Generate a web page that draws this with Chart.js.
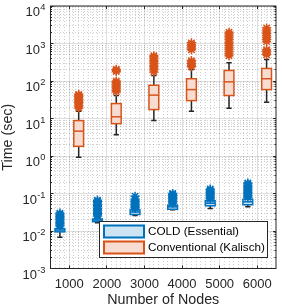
<!DOCTYPE html>
<html>
<head>
<meta charset="utf-8">
<script src="https://cdn.jsdelivr.net/npm/chart.js@4.4.1/dist/chart.umd.min.js"></script>
<style>
  html, body { margin: 0; padding: 0; background: #fff; }
</style>
</head>
<body>
<canvas id="graph-1" width="282" height="306"></canvas>
<script>
const nodes = [1000, 2000, 3000, 4000, 5000, 6000];
const yExponents = [-3, -2, -1, 0, 1, 2, 3, 4];
const seriesNames = ['COLD (Essential)', 'Conventional (Kalisch)'];

// COLD (Essential) - box stats per node count
const coldMin = [0.0068, 0.0165, 0.026, 0.0367, 0.040, 0.044];
const coldQ1 = [0.0095, 0.0178, 0.0275, 0.038, 0.047, 0.050];
const coldMed = [0.0106, 0.0196, 0.032, 0.044, 0.055, 0.060];
const coldQ3 = [0.0116, 0.021, 0.0367, 0.0488, 0.064, 0.0706];
const coldMax = [0.0128, 0.023, 0.039, 0.052, 0.067, 0.075];
const coldOutliers = [
  [0.0135, 0.0145, 0.0155, 0.0165, 0.018, 0.0195, 0.021, 0.0225, 0.024, 0.026, 0.028, 0.030],
  [0.025, 0.027, 0.029, 0.031, 0.034, 0.037, 0.040, 0.044, 0.048, 0.052, 0.057, 0.062, 0.066],
  [0.040, 0.043, 0.046, 0.049, 0.052, 0.056, 0.060, 0.065, 0.070, 0.085],
  [0.055, 0.059, 0.063, 0.067, 0.072, 0.077, 0.083, 0.089, 0.096, 0.100],
  [0.071, 0.076, 0.081, 0.087, 0.093, 0.100, 0.107, 0.115, 0.124, 0.132],
  [0.079, 0.085, 0.091, 0.098, 0.105, 0.113, 0.122, 0.131, 0.141, 0.152, 0.164, 0.178, 0.19]
];

// Conventional (Kalisch)
const convMin = [0.92, 3.7, 8.8, 15.6, 18.8, 27];
const convQ1 = [1.81, 7.3, 17.3, 30, 41, 59];
const convMed = [4.6, 11.1, 42, 59, 95, 115];
const convQ3 = [8.8, 25, 77, 115, 191, 216];
const convMax = [15.6, 41, 140, 203, 306, 375];
const convOutliers = [
  [19, 21, 23, 25, 27, 29, 31, 33, 36, 39, 42, 44],
  [52, 57, 63, 69, 76, 84, 92, 100, 180, 192, 205],
  [175, 195, 215, 240, 265, 295, 325, 360, 400, 440, 470],
  [240, 265, 290, 320, 350, 680, 760, 850, 940, 1040],
  [470, 530, 600, 680, 770, 870, 980, 1100, 1250, 1420, 1600, 1800, 2000],
  [500, 560, 620, 680, 1130, 1270, 1430, 1610, 1810, 2040, 2300, 2600]
];

const BLUE = '#0072BD', BLUE_FILL = '#CCE3F2';
const ORANGE = '#D95319', ORANGE_FILL = '#F7DDD1';
const INK = '#262626';
const FONT = "'Liberation Sans', Arial, sans-serif";
Chart.defaults.font.family = FONT;

const groups = [
  {shift: -250, min: coldMin, q1: coldQ1, med: coldMed, q3: coldQ3, max: coldMax, line: BLUE, fill: BLUE_FILL},
  {shift: 250, min: convMin, q1: convQ1, med: convMed, q3: convQ3, max: convMax, line: ORANGE, fill: ORANGE_FILL}
];

function outlierPoints(list, shift) {
  const pts = [];
  list.forEach((vals, i) => vals.forEach(v => pts.push({x: nodes[i] + shift, y: v})));
  return pts;
}

function align(p) { return Math.round(p - 0.5) + 0.5; }

const boxPlugin = {
  id: 'boxes',
  beforeDatasetsDraw(chart) {
    const {ctx, scales: {x, y}} = chart;
    ctx.save();
    groups.forEach(g => {
      nodes.forEach((n, i) => {
        const c = n + g.shift;
        const l = x.getPixelForValue(c - 130), r = x.getPixelForValue(c + 130);
        const cl = x.getPixelForValue(c - 70), cr = x.getPixelForValue(c + 70);
        const cx = x.getPixelForValue(c);
        const yMin = y.getPixelForValue(g.min[i]), yMax = y.getPixelForValue(g.max[i]);
        const yQ1 = y.getPixelForValue(g.q1[i]), yQ3 = y.getPixelForValue(g.q3[i]);
        const yMed = y.getPixelForValue(g.med[i]);
        // whiskers
        ctx.strokeStyle = INK;
        ctx.lineWidth = 1.5;
        ctx.beginPath();
        ctx.moveTo(cx, yMax); ctx.lineTo(cx, yQ3);
        ctx.moveTo(cx, yQ1); ctx.lineTo(cx, yMin);
        ctx.moveTo(cl, yMax); ctx.lineTo(cr, yMax);
        ctx.moveTo(cl, yMin); ctx.lineTo(cr, yMin);
        ctx.stroke();
        // box
        ctx.fillStyle = g.fill;
        ctx.fillRect(l, yQ3, r - l, yQ1 - yQ3);
        ctx.strokeStyle = g.line;
        ctx.lineWidth = 1.5;
        ctx.strokeRect(l, yQ3, r - l, yQ1 - yQ3);
        ctx.beginPath();
        ctx.moveTo(l, yMed); ctx.lineTo(r, yMed);
        ctx.stroke();
      });
    });
    ctx.restore();
  }
};

const frameLegendPlugin = {
  id: 'frameLegend',
  afterDraw(chart) {
    const {ctx, chartArea: a, scales: {x, y}} = chart;
    ctx.save();
    ctx.strokeStyle = INK;
    ctx.lineWidth = 1;
    ctx.beginPath();
    x.ticks.forEach(t => {
      if (!t.isMajor) return;
      const px = align(x.getPixelForValue(t.value));
      ctx.moveTo(px, a.bottom); ctx.lineTo(px, a.bottom - 3);
      ctx.moveTo(px, a.top); ctx.lineTo(px, a.top + 3);
    });
    y.ticks.forEach(t => {
      const py = align(y.getPixelForValue(t.value));
      const len = t.isMajor ? 3 : 1.5;
      ctx.moveTo(a.left, py); ctx.lineTo(a.left + len, py);
      ctx.moveTo(a.right, py); ctx.lineTo(a.right - len, py);
    });
    ctx.stroke();
    ctx.strokeRect(a.left, a.top, a.right - a.left, a.bottom - a.top);

    // y tick labels as 10 with a raised exponent
    ctx.fillStyle = INK;
    ctx.textAlign = 'right';
    ctx.textBaseline = 'alphabetic';
    yExponents.forEach(e => {
      const py = y.getPixelForValue(Math.pow(10, e));
      const right = a.left - 5;
      ctx.font = '9.3px ' + FONT;
      const exp = String(e);
      const w = ctx.measureText(exp).width;
      ctx.fillText(exp, right, py + 4);
      ctx.font = '13px ' + FONT;
      ctx.fillText('10', right - w - 0.3, py + 10);
    });

    // legend
    ctx.textAlign = 'left';
    ctx.fillStyle = '#fff';
    ctx.fillRect(99.5, 221.5, 168, 36);
    ctx.strokeStyle = INK;
    ctx.lineWidth = 1;
    ctx.strokeRect(99.5, 221.5, 168, 36);
    const rows = [[BLUE, BLUE_FILL, 231.5], [ORANGE, ORANGE_FILL, 247.5]];
    rows.forEach((row, i) => {
      ctx.fillStyle = row[1];
      ctx.fillRect(104, row[2] - 6, 40, 12);
      ctx.strokeStyle = row[0];
      ctx.lineWidth = 2;
      ctx.strokeRect(104, row[2] - 6, 40, 12);
      ctx.fillStyle = '#000';
      ctx.font = '11.7px ' + FONT;
      ctx.textBaseline = 'middle';
      ctx.fillText(seriesNames[i], 148, row[2] + 0.5);
    });
    ctx.restore();
  }
};

function zeroPad(scale) {
  scale.paddingTop = 0; scale.paddingBottom = 0;
  scale.paddingLeft = 0; scale.paddingRight = 0;
}

const minorColor = 'rgba(38,38,38,0.22)';
const majorColor = 'rgba(38,38,38,0.15)';

const config = {
  type: 'scatter',
  data: {
    datasets: [
      {
        label: seriesNames[0],
        data: outlierPoints(coldOutliers, -250),
        pointStyle: 'star',
        radius: 4.5,
        borderWidth: 1.5,
        borderColor: BLUE,
        backgroundColor: BLUE
      },
      {
        label: seriesNames[1],
        data: outlierPoints(convOutliers, 250),
        pointStyle: 'star',
        radius: 4.5,
        borderWidth: 1.5,
        borderColor: ORANGE,
        backgroundColor: ORANGE
      }
    ]
  },
  options: {
    responsive: false,
    animation: false,
    events: [],
    layout: { padding: { top: 5.5, right: 1.5, left: 0, bottom: 0 } },
    plugins: {
      legend: { display: false },
      tooltip: { enabled: false }
    },
    scales: {
      x: {
        type: 'linear',
        min: 500,
        max: 6500,
        afterBuildTicks(scale) {
          const t = [];
          for (let v = 625; v < 6500; v += 125) {
            t.push({value: v, isMajor: nodes.includes(v)});
          }
          scale.ticks = t;
        },
        afterFit(scale) { scale.height = 37.5; zeroPad(scale); },
        ticks: {
          autoSkip: false,
          maxRotation: 0,
          padding: 8,
          color: INK,
          font: { size: 13 },
          callback: (v, i, ticks) => ticks[i].isMajor ? String(v) : ''
        },
        grid: {
          drawTicks: false,
          color: ctx => ctx.tick && ctx.tick.isMajor ? majorColor : minorColor,
          lineWidth: 1
        },
        border: {
          display: false,
          dash: ctx => ctx.tick && !ctx.tick.isMajor ? [1, 2] : []
        },
        title: {
          display: true,
          text: 'Number of Nodes',
          color: INK,
          font: { size: 14.3, lineHeight: 1 },
          padding: { top: 0, bottom: -1 }
        }
      },
      y: {
        type: 'logarithmic',
        min: 1e-3,
        max: 1e4,
        afterBuildTicks(scale) {
          const t = [];
          yExponents.forEach(e => {
            t.push({value: Math.pow(10, e), isMajor: true});
            if (e < 4) {
              for (let m = 2; m <= 9; m++) t.push({value: m * Math.pow(10, e), isMajor: false});
            }
          });
          scale.ticks = t;
        },
        afterFit(scale) { scale.width = 50.5; zeroPad(scale); },
        ticks: {
          display: false,
          autoSkip: false
        },
        grid: {
          drawTicks: false,
          color: ctx => ctx.tick && ctx.tick.isMajor ? majorColor : minorColor,
          lineWidth: 1
        },
        border: {
          display: false,
          dash: ctx => ctx.tick && !ctx.tick.isMajor ? [1, 2] : []
        },
        title: {
          display: true,
          text: 'Time (sec)',
          color: INK,
          font: { size: 14.3, lineHeight: 1 },
          padding: { top: 1.2, bottom: 0 }
        }
      }
    }
  },
  plugins: [boxPlugin, frameLegendPlugin]
};

const chart = new Chart(document.querySelector('#graph-1'), config);
</script>
</body>
</html>
